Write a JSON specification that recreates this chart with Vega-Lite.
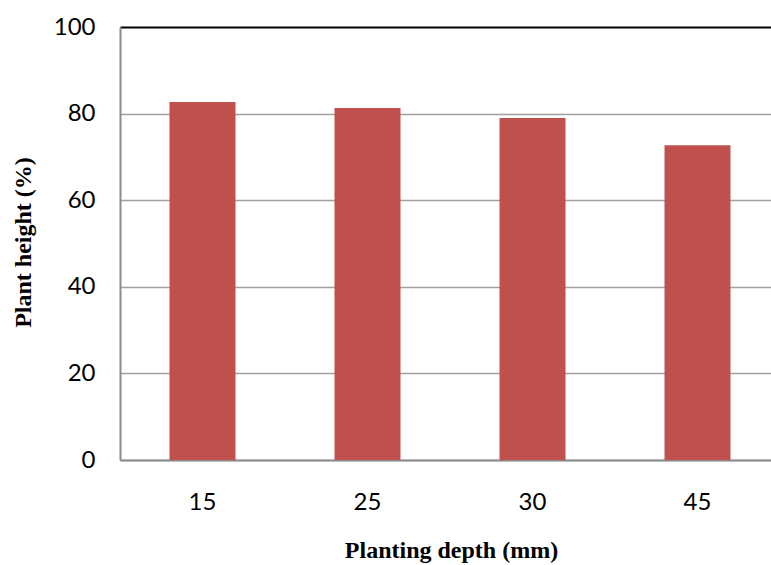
{
  "$schema": "https://vega.github.io/schema/vega-lite/v6.json",
  "width": 660,
  "height": 433,
  "autosize": {"type": "none"},
  "padding": {"left": 120, "top": 27, "right": 0, "bottom": 105},
  "background": "white",
  "config": {"view": {"stroke": null}},
  "data": {"values": [
    {"depth": "15", "height": 82.7},
    {"depth": "25", "height": 81.3},
    {"depth": "30", "height": 79.0},
    {"depth": "45", "height": 72.7}
  ]},
  "mark": {"type": "bar", "color": "#C0504D"},
  "encoding": {
    "x": {
      "field": "depth", "type": "nominal", "sort": null,
      "scale": {"paddingInner": 0.6, "paddingOuter": 0.3},
      "axis": {
        "title": "Planting depth (mm)",
        "titleFont": "Liberation Serif", "titleFontSize": 24, "titleFontWeight": "bold", "titleColor": "black",
        "titleX": 331, "titleY": 90, "titleBaseline": "middle", "titleAlign": "center",
        "labelAngle": 0, "labelFont": "Lato", "labelFontSize": 24, "labelColor": "black",
        "labelPadding": 30, "ticks": false,
        "domainColor": "#8c8c8c", "domainWidth": 2
      }
    },
    "y": {
      "field": "height", "type": "quantitative",
      "scale": {"domain": [0, 100]},
      "axis": {
        "values": [0, 20, 40, 60, 80, 100],
        "title": "Plant height (%)",
        "titleFont": "Liberation Serif", "titleFontSize": 24, "titleFontWeight": "bold", "titleColor": "black",
        "titleX": -97, "titleY": 215, "titleBaseline": "middle", "titleAlign": "center", "titleAngle": 270,
        "labelFont": "Lato", "labelFontSize": 24, "labelColor": "black", "labelPadding": 25,
        "ticks": false,
        "domainColor": "#8c8c8c", "domainWidth": 2,
        "grid": true,
        "gridColor": {"condition": {"test": "datum.value === 100", "value": "black"}, "value": "#a0a0a0"},
        "gridWidth": {"condition": {"test": "datum.value === 100", "value": 2}, "value": 1.5}
      }
    }
  }
}
